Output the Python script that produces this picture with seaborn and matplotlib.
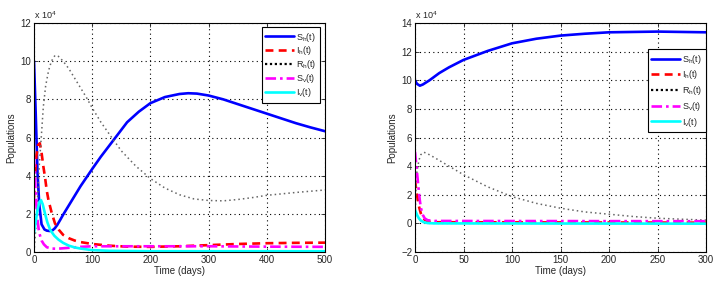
import numpy as np
import pandas as pd
import matplotlib
matplotlib.use('Agg')
import matplotlib.pyplot as plt
import seaborn as sns

# ---- data (populations in units of 1e4) ----
# left panel
tl_sh = [0, 3, 6, 9, 13, 18, 22, 27, 32, 36, 40, 45, 50, 60, 70, 80, 90, 100, 115, 130, 145, 160,
         180, 200, 225, 250, 265, 280, 300, 325, 350, 375, 400, 425, 450, 475, 500]
l_sh = [10, 7.2, 4.2, 2.5, 1.45, 1.18, 1.12, 1.1, 1.14, 1.25, 1.42, 1.68, 1.95, 2.45, 2.95, 3.45,
        3.9, 4.35, 5.0, 5.6, 6.2, 6.8, 7.35, 7.8, 8.12, 8.28, 8.32, 8.3, 8.2, 8.0, 7.75, 7.5, 7.25,
        7.0, 6.75, 6.53, 6.33]

tl_ih = [0, 2, 4, 7, 10, 13, 16, 19, 22, 25, 30, 36, 43, 50, 60, 70, 80, 100, 130, 160, 200, 250,
         300, 350, 400, 450, 500]
l_ih = [2.8, 4.2, 5.0, 5.6, 5.7, 5.2, 4.5, 3.9, 3.2, 2.7, 2.1, 1.5, 1.15, 0.9, 0.72, 0.6, 0.52, 0.42,
        0.33, 0.28, 0.27, 0.3, 0.36, 0.42, 0.46, 0.48, 0.49]

tl_rh = [0, 3, 6, 9, 12, 16, 20, 25, 30, 36, 42, 50, 60, 70, 80, 90, 100, 115, 130, 150, 175, 200,
         225, 250, 275, 300, 325, 350, 375, 400, 450, 500]
l_rh = [0, 1.2, 2.8, 4.5, 5.8, 7.6, 8.7, 9.5, 10.0, 10.3, 10.25, 10.0, 9.6, 9.1, 8.6, 8.1, 7.55, 6.8,
        6.15, 5.3, 4.5, 3.85, 3.35, 3.0, 2.78, 2.7, 2.68, 2.75, 2.85, 2.97, 3.12, 3.25]

tl_sv = [0, 2, 4, 6, 8, 10, 13, 17, 22, 30, 40, 60, 80, 100, 150, 200, 300, 400, 500]
l_sv = [5.0, 3.6, 2.5, 1.7, 1.2, 0.9, 0.6, 0.4, 0.25, 0.18, 0.17, 0.22, 0.27, 0.3, 0.3, 0.3, 0.3,
        0.28, 0.27]

tl_iv = [0, 3, 6, 9, 12, 15, 19, 23, 28, 35, 42, 50, 60, 70, 80, 100, 130, 200, 500]
l_iv = [1.0, 1.6, 2.2, 2.6, 2.72, 2.5, 2.0, 1.55, 1.15, 0.85, 0.65, 0.48, 0.33, 0.24, 0.18, 0.1,
        0.06, 0.04, 0.04]

# right panel
tr_sh = [0, 2, 5, 8, 15, 25, 35, 50, 75, 100, 125, 150, 175, 200, 250, 300]
r_sh = [10, 9.75, 9.62, 9.7, 10.0, 10.5, 10.9, 11.42, 12.05, 12.58, 12.9, 13.12, 13.25, 13.35,
        13.4, 13.35]

tr_ih = [0, 1, 2, 4, 6, 8, 10, 14, 20, 300]
r_ih = [3.0, 2.5, 2.0, 1.2, 0.7, 0.4, 0.25, 0.12, 0.08, 0.05]

tr_rh = [0, 1, 2, 4, 6, 9, 12, 20, 30, 50, 75, 100, 125, 150, 175, 200, 225, 250, 275, 300]
r_rh = [0, 2.5, 3.6, 4.4, 4.8, 4.97, 4.9, 4.6, 4.2, 3.4, 2.55, 1.87, 1.4, 1.06, 0.8, 0.64, 0.48,
        0.36, 0.29, 0.23]

tr_sv = [0, 1, 2, 3, 4, 5, 6, 8, 10, 13, 20, 300]
r_sv = [5.0, 4.3, 3.6, 2.9, 2.2, 1.6, 1.1, 0.6, 0.35, 0.22, 0.17, 0.15]

tr_iv = [0, 2, 4, 6, 9, 13, 20, 300]
r_iv = [0.95, 0.6, 0.35, 0.2, 0.08, 0.02, 0.0, -0.02]

labels = [r'S$_{\rm h}$(t)', r'I$_{\rm h}$(t)', r'R$_{\rm h}$(t)', r'S$_{\rm v}$(t)', r'I$_{\rm v}$(t)']

sns.set_style('ticks')
plt.rcParams['font.family'] = ['Liberation Sans', 'DejaVu Sans']
plt.rcParams['mathtext.fontset'] = 'custom'
plt.rcParams['mathtext.rm'] = 'Liberation Sans'
plt.rcParams['mathtext.it'] = 'Liberation Sans:italic'

styles = [
    dict(color='#0000ff', lw=1.9, ls='-'),
    dict(color='#ff0000', lw=1.9, ls=(0, (3, 2))),
    dict(color='0.4', lw=1.1, ls=(0, (1, 2))),
    dict(color='#ff00ff', lw=1.9, ls=(0, (4, 1.5, 1, 1.5))),
    dict(color='#00ffff', lw=1.9, ls='-'),
]

fig = plt.figure(figsize=(7.27, 2.88), dpi=100)
W, H = 727, 288
ax1 = fig.add_axes([34 / W, 36 / H, 291 / W, 229 / H])
ax2 = fig.add_axes([415 / W, 36 / H, 291 / W, 229 / H])

left_series = [(tl_sh, l_sh), (tl_ih, l_ih), (tl_rh, l_rh), (tl_sv, l_sv), (tl_iv, l_iv)]
right_series = [(tr_sh, r_sh), (tr_ih, r_ih), (tr_rh, r_rh), (tr_sv, r_sv), (tr_iv, r_iv)]

for ax, series in [(ax1, left_series), (ax2, right_series)]:
    for (t, y), lab, st in zip(series, labels, styles):
        sns.lineplot(x=t, y=y, ax=ax, label=lab, sort=False, color=st['color'],
                     linewidth=st['lw'], linestyle=st['ls'])

def style_axes(ax, xlim, xticks, ylim, yticks, leg_anchor, spacing):
    ax.set_xlim(*xlim)
    ax.set_ylim(*ylim)
    ax.set_xticks(xticks)
    ax.set_yticks(yticks)
    ax.grid(True, color='black', linestyle=(0, (1, 3)), linewidth=0.8)
    ax.tick_params(direction='in', top=True, right=True, length=3, width=0.6,
                   labelsize=7, pad=2)
    for s in ax.spines.values():
        s.set_color('black')
        s.set_linewidth(0.8)
    ax.set_xlabel('Time (days)', fontsize=7, labelpad=1)
    ax.set_ylabel('Populations', fontsize=7, labelpad=3)
    ax.text(0.0, 1.01, r'x 10$^4$', transform=ax.transAxes, fontsize=6.5,
            ha='left', va='bottom')
    leg = ax.legend(loc='upper right', bbox_to_anchor=leg_anchor, borderaxespad=0,
                    fontsize=6.5, frameon=True, fancybox=False, framealpha=1,
                    edgecolor='black', handlelength=3.2, handletextpad=0.2,
                    labelspacing=spacing, borderpad=0.4)
    leg.get_frame().set_linewidth(0.8)
    for ln in leg.get_lines():
        if ln.get_color() == '0.4':
            ln.set_color('black')
            ln.set_linewidth(1.6)
            ln.set_linestyle((0, (1, 1.2)))

style_axes(ax1, (0, 500), range(0, 501, 100), (0, 12), range(0, 13, 2), (0.983, 0.983), 0.1)
style_axes(ax2, (0, 300), range(0, 301, 50), (-2, 14), range(-2, 15, 2), (0.999, 0.886), 0.3)

fig.savefig('out.png', dpi=100)
